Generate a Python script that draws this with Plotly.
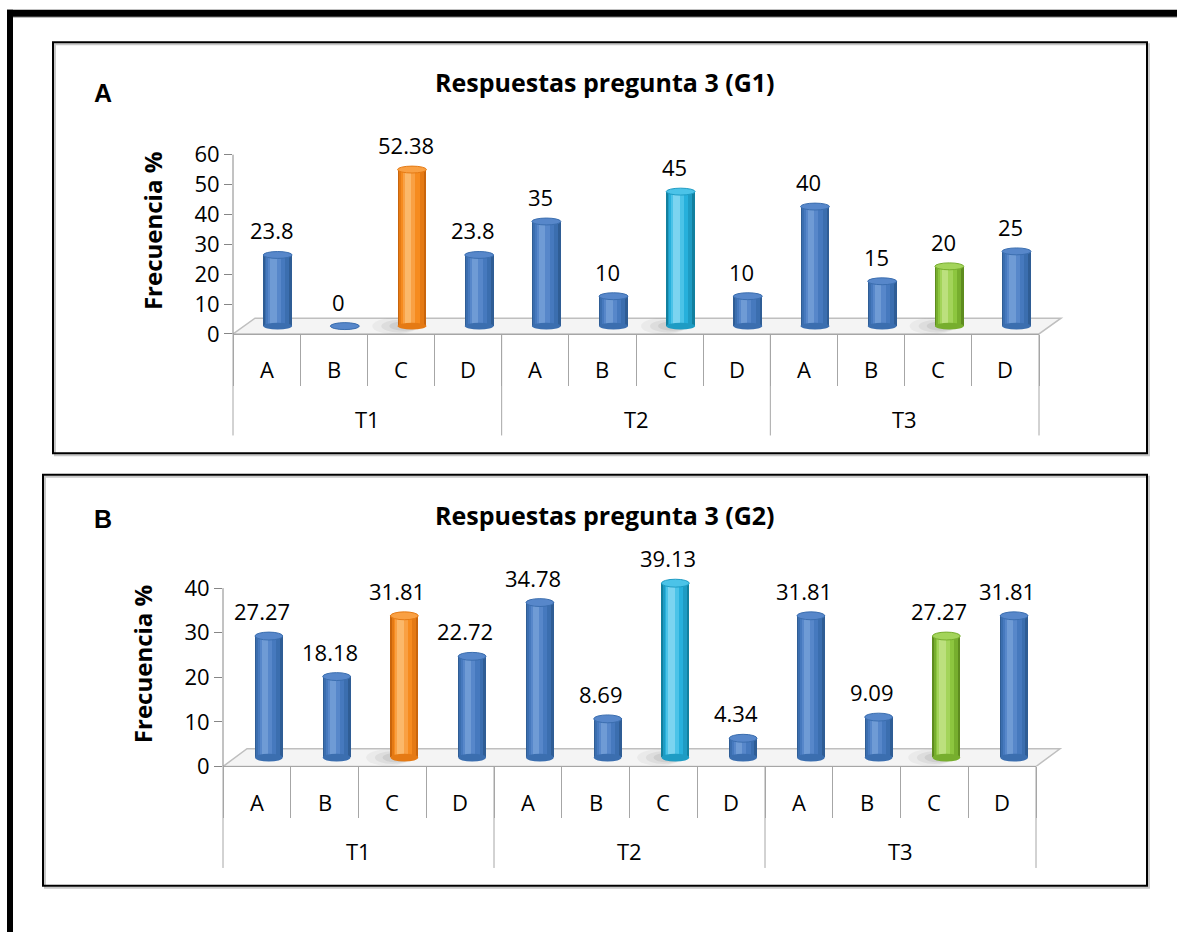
import plotly.graph_objects as go

# ---- data -------------------------------------------------------------
groups = ["T1"] * 4 + ["T2"] * 4 + ["T3"] * 4
options = ["A", "B", "C", "D"] * 3
g1_values = [23.8, 0, 52.38, 23.8, 35, 10, 45, 10, 40, 15, 20, 25]
g2_values = [27.27, 18.18, 31.81, 22.72, 34.78, 8.69, 39.13, 4.34, 31.81, 9.09, 27.27, 31.81]
g1_ticks = [0, 10, 20, 30, 40, 50, 60]
g2_ticks = [0, 10, 20, 30, 40]
panel_titles = ["Respuestas pregunta 3 (G1)", "Respuestas pregunta 3 (G2)"]
panel_letters = ["A", "B"]
y_title = "Frecuencia %"

W, H = 1177, 946
FONT = "Open Sans"

# cylinder colour ramps (dark edge -> highlight)
RAMPS = {
    "blue":   ["#2F5D95", "#3B6EAF", "#4679BE", "#5787CA", "#6F9BD5"],
    "orange": ["#C9650C", "#E57A14", "#F68B1F", "#F9A043", "#FBB86A"],
    "cyan":   ["#12809F", "#1E9CC4", "#27B0DC", "#4BC3E8", "#7BD4F0"],
    "green":  ["#5E8C1F", "#77AE2E", "#8DC63F", "#A3D45A", "#BCE07E"],
}
C_COLOURS = {"T1": "orange", "T2": "cyan", "T3": "green"}


def colour_key(group, option):
    return C_COLOURS[group] if option == "C" else "blue"


GRAY = "#A6A6A6"
AXGRAY = "#868686"


def px_x(p):
    return p / W


def px_y(p):
    return 1 - p / H


fig = go.Figure()
shapes = []
annotations = []

panels = [
    dict(values=g1_values, ticks=g1_ticks, x0=233, x1=1039, y0=339, y1=157,
         dx=22, dy=16, base_px=8, bar_w=0.43, shift=0.165, cap_px=7,
         box=(53, 43, 1147, 460), title_y=83, letter_y=94),
    dict(values=g2_values, ticks=g2_ticks, x0=223, x1=1036, y0=778, y1=597,
         dx=24, dy=18, base_px=9, bar_w=0.41, shift=0.177, cap_px=8,
         box=(43, 482, 1147, 899), title_y=523, letter_y=527),
]

n = len(options)
# group boundaries (in category slots) for the two-level category axis
group_names = list(dict.fromkeys(groups))
group_edges = [0] + [i for i in range(1, n) if groups[i] != groups[i - 1]] + [n]

for k, p in enumerate(panels):
    sfx = "" if k == 0 else str(k + 1)
    xa, ya = "x" + sfx, "y" + sfx
    values = p["values"]
    ymax = p["ticks"][-1]
    unit_px = (p["y0"] - p["y1"]) / ymax
    head = 0.15 * ymax
    ytop_px = p["y1"] - head * unit_px
    base = p["base_px"] / unit_px
    keys = [colour_key(g, o) for g, o in zip(groups, options)]
    w, s = p["bar_w"], p["shift"]

    # floor of the 3-D plot area
    dxd = p["dx"] / (p["x1"] - p["x0"])
    shapes.append(dict(type="path", xref=xa + " domain", yref=ya,
                       path=(f"M 0,0 L 1,0 L {1 + dxd},{p['dy'] / unit_px} "
                             f"L {dxd},{p['dy'] / unit_px} Z"),
                       fillcolor="#F4F4F4", line=dict(color="#BFBFBF", width=1.5),
                       layer="below"))
    # value axis line, from 0 up to the last tick
    shapes.append(dict(type="line", xref=xa + " domain", yref=ya,
                       x0=0, x1=0, y0=0, y1=ymax,
                       line=dict(color=AXGRAY, width=1)))

    # soft floor shadow behind the highlighted (option C) cylinders
    hw = w / 2 / n
    sh_h = 6 / unit_px
    for i, c in enumerate(keys):
        if c == "blue":
            continue
        cx = (i + 0.5 + s) / n
        for grow, alpha in [(2.2, 0.05), (1.7, 0.07), (1.25, 0.09)]:
            shapes.append(dict(type="circle", xref=xa + " domain", yref=ya,
                               x0=cx - hw * grow * 1.25, x1=cx + hw * 0.4,
                               y0=base - sh_h * grow / 1.6, y1=base + sh_h * grow / 1.6,
                               fillcolor=f"rgba(60,60,60,{alpha})", line=dict(width=0),
                               layer="below"))

    # cylinder body: stacked overlay bars, narrowing towards the highlight
    fracs = [1.0, 0.86, 0.66, 0.44, 0.22]
    hl = -0.14
    for j, f in enumerate(fracs):
        centre = s + hl * w * (1 - f) / (1 - fracs[-1]) if j else s
        wj = w * f
        fig.add_trace(go.Bar(
            x=[groups, options], y=values, base=[base] * n,
            width=wj, offset=centre - wj / 2,
            marker=dict(color=[RAMPS[c][j] for c in keys], line=dict(width=0)),
            xaxis=xa, yaxis=ya, hoverinfo="skip", showlegend=False,
        ))

    cap_h = p["cap_px"] / 2 / unit_px
    for i, (v, c) in enumerate(zip(values, keys)):
        cx = (i + 0.5 + s) / n
        ramp = RAMPS[c]
        shapes.append(dict(type="circle", xref=xa + " domain", yref=ya,
                           x0=cx - hw, x1=cx + hw, y0=base - cap_h, y1=base + cap_h,
                           fillcolor=ramp[1], line=dict(width=0), layer="above"))
        top = base + v
        shapes.append(dict(type="circle", xref=xa + " domain", yref=ya,
                           x0=cx - hw, x1=cx + hw, y0=top - cap_h, y1=top + cap_h,
                           fillcolor=ramp[3], line=dict(color=ramp[1], width=1),
                           layer="above"))
        annotations.append(dict(xref=xa + " domain", yref=ya, x=(i + 0.5) / n, y=top,
                                text=f"{v:g}", showarrow=False,
                                xanchor="center", yanchor="bottom",
                                xshift=5, yshift=p["cap_px"] / 2 + 4,
                                font=dict(family=FONT, size=22, color="#000")))

    # two-level category labels: options on the first row, groups below
    for i, o in enumerate(options):
        annotations.append(dict(xref=xa + " domain", yref="paper", x=(i + 0.5) / n,
                                y=px_y(p["y0"] + 36), text=o, showarrow=False,
                                xanchor="center", yanchor="middle",
                                font=dict(family=FONT, size=22, color="#000")))
    for g, a, b in zip(group_names, group_edges[:-1], group_edges[1:]):
        annotations.append(dict(xref=xa + " domain", yref="paper", x=(a + b) / 2 / n,
                                y=px_y(p["y0"] + 86), text=g, showarrow=False,
                                xanchor="center", yanchor="middle",
                                font=dict(family=FONT, size=22, color="#000")))
    for e in group_edges:
        shapes.append(dict(type="line", xref=xa + " domain", yref="paper",
                           x0=e / n, x1=e / n, y0=px_y(p["y0"]), y1=px_y(p["y0"] + 103),
                           line=dict(color=GRAY, width=1)))

    fig.layout["xaxis" + sfx] = dict(
        type="multicategory", domain=[px_x(p["x0"]), px_x(p["x1"])], anchor=ya,
        showline=True, linecolor=GRAY, linewidth=1,
        ticks="outside", tickson="boundaries", ticklen=51, tickcolor=GRAY,
        showticklabels=False, showdividers=False,
        showgrid=False,
    )
    fig.layout["yaxis" + sfx] = dict(
        domain=[px_y(p["y0"]), px_y(ytop_px)], anchor=xa, range=[0, ymax + head],
        tickvals=p["ticks"], ticks="outside", ticklen=8, tickcolor=AXGRAY,
        showline=False, showgrid=False, zeroline=False,
        tickfont=dict(family=FONT, size=22, color="#000"),
        title=dict(text=y_title, standoff=25,
                   font=dict(family=FONT, size=24, color="#000", weight="bold")),
    )

    bx0, by0, bx1, by1 = p["box"]
    shapes.append(dict(type="rect", xref="paper", yref="paper",
                       x0=px_x(bx0 + 2), x1=px_x(bx1 + 2), y0=px_y(by1 + 2), y1=px_y(by0 + 2),
                       line=dict(color="#C8C8C8", width=2), layer="below"))
    shapes.append(dict(type="rect", xref="paper", yref="paper",
                       x0=px_x(bx0), x1=px_x(bx1), y0=px_y(by1), y1=px_y(by0),
                       line=dict(color="#000", width=2), fillcolor="rgba(0,0,0,0)",
                       layer="below"))

    annotations.append(dict(xref="paper", yref="paper", x=px_x(605), y=px_y(p["title_y"]),
                            xanchor="center", yanchor="middle",
                            text=panel_titles[k], showarrow=False,
                            font=dict(family=FONT, size=25, color="#000", weight="bold")))
    annotations.append(dict(xref="paper", yref="paper", x=px_x(103), y=px_y(p["letter_y"]),
                            xanchor="center", yanchor="middle",
                            text=panel_letters[k], showarrow=False,
                            font=dict(family="Liberation Sans", size=25, color="#000",
                                      weight="bold")))

# outer heavy frame (top and left edges)
shapes.append(dict(type="line", xref="paper", yref="paper",
                   x0=px_x(7), x1=1, y0=px_y(17.5), y1=px_y(17.5),
                   line=dict(color="#BDBDBD", width=1.5)))
shapes.append(dict(type="line", xref="paper", yref="paper",
                   x0=px_x(7), x1=1, y0=px_y(13.5), y1=px_y(13.5),
                   line=dict(color="#000", width=7)))
shapes.append(dict(type="line", xref="paper", yref="paper",
                   x0=px_x(10), x1=px_x(10), y0=px_y(10), y1=0,
                   line=dict(color="#000", width=6)))

fig.update_layout(
    width=W, height=H, margin=dict(l=0, r=0, t=0, b=0),
    paper_bgcolor="white", plot_bgcolor="rgba(0,0,0,0)",
    barmode="overlay", bargap=0, showlegend=False,
    shapes=shapes, annotations=annotations,
    font=dict(family=FONT, color="#000"),
)

fig.write_html("out.html")
